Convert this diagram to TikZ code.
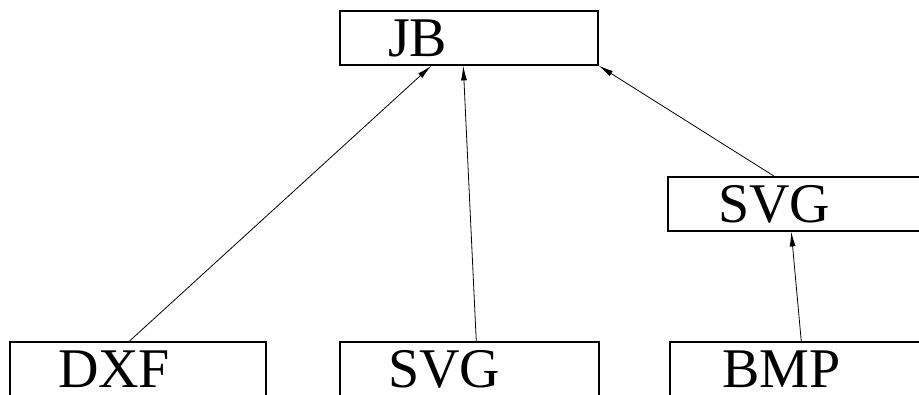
\documentclass[tikz,border=0pt]{standalone}
\usepackage{fontspec}
\setmainfont{Liberation Serif}
\usetikzlibrary{arrows.meta,calc}
\begin{document}
\begin{tikzpicture}[x=0.75pt,y=-0.75pt,
  box/.style={draw, line width=1.1pt, inner sep=0pt, align=left,
    minimum height=40.5pt, font=\fontsize{42}{42}\selectfont},
  arr/.style={line width=0.6pt, -{Latex[length=11pt,width=4.5pt]}}]
\useasboundingbox (0,0) rectangle (919,395);
\node[box, text width=193.5pt] (jb) at (469,38) {\hspace*{36pt}JB};
\node[box, text width=196.5pt] (svgm) at (799,204) {\hspace*{37.5pt}SVG};
\node[box, text width=192pt] (dxf) at (138,369) {\hspace*{36pt}DXF};
\node[box, text width=194.25pt] (svgb) at (469.5,369) {\hspace*{36pt}SVG};
\node[box, text width=195pt] (bmp) at (800,369) {\hspace*{39pt}BMP};
\draw[arr] ($(dxf.north west)+(120,0)$) -- ($(jb.south west)+(92,0)$);
\draw[arr] ($(svgb.north west)+(137,0)$) -- ($(jb.south west)+(124,0)$);
\draw[arr] ($(svgm.north west)+(107,0)$) -- (jb.south east);
\draw[arr] ($(bmp.north west)+(132,0)$) -- ($(svgm.south west)+(124,0)$);
\end{tikzpicture}
\end{document}
